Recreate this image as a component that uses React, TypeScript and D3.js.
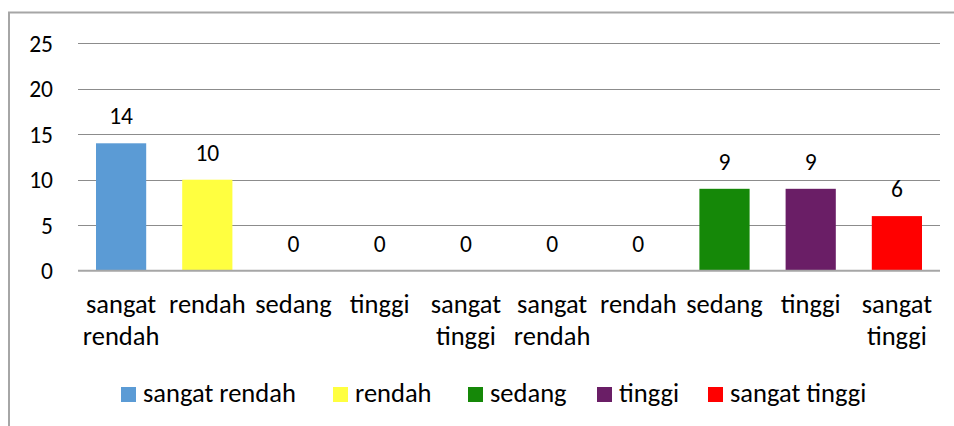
import React from "react";
import * as d3 from "d3";

const categories = [
  "sangat rendah", "rendah", "sedang", "tinggi", "sangat tinggi",
  "sangat rendah", "rendah", "sedang", "tinggi", "sangat tinggi",
];
const values = [14, 10, 0, 0, 0, 0, 0, 9, 9, 6];
const seriesNames = ["sangat rendah", "rendah", "sedang", "tinggi", "sangat tinggi"];
const seriesColors = ["#5b9bd5", "#ffff40", "#158808", "#6a1e66", "#ff0000"];
const yTicks = [0, 5, 10, 15, 20, 25];

// layout (not data)
const W = 954, H = 426;
const plotLeft = 78, plotRight = 940, plotTop = 43.2, plotBottom = 270.7;
const legendX = [121, 333, 468, 597, 708];
const FONT = "Carlito, Calibri, Lato, sans-serif";
const FS_NUM = 23.5;
const FS_TXT = 26.5;

export default function App() {
  const x = d3.scaleBand<number>()
    .domain(d3.range(categories.length))
    .range([plotLeft, plotRight])
    .paddingInner(36 / 86.2)
    .paddingOuter(18 / 86.2);
  const y = d3.scaleLinear().domain([0, 25]).range([plotBottom, plotTop]);
  const center = (i: number) => (x(i) as number) + x.bandwidth() / 2;
  const barW = x.bandwidth();

  return (
    <svg width={W} height={H} style={{ position: "absolute", left: 0, top: 0, background: "#fff" }}
      fontFamily={FONT}>
      <rect x={0} y={0} width={W} height={H} fill="#fff" />
      <rect x={9} y={12.5} width={W + 20} height={H + 20} fill="none" stroke="#a6a6a6" strokeWidth={2} />
      {yTicks.map((t) => (
        <g key={t}>
          {t !== 0 && (
            <line x1={plotLeft} x2={plotRight} y1={Math.round(y(t)) + 0.5} y2={Math.round(y(t)) + 0.5}
              stroke="#8c8c8c" strokeWidth={1} />
          )}
          <text x={53} y={y(t)} dy="0.36em" textAnchor="end" fontSize={FS_NUM} fill="#000">{t}</text>
        </g>
      ))}
      {values.map((v, i) => {
        const c = center(i);
        const col = seriesColors[seriesNames.indexOf(categories[i])];
        return (
          <g key={i}>
            {v > 0 && (
              <rect x={c - barW / 2} y={y(v)} width={barW} height={y(0) - y(v)} fill={col} />
            )}
            <text x={c} y={y(v) - 19} textAnchor="middle" fontSize={FS_NUM} fill="#000">{v}</text>
          </g>
        );
      })}
      <line x1={plotLeft} x2={plotRight} y1={y(0)} y2={y(0)} stroke="#a6a6a6" strokeWidth={2} />
      {categories.map((c, i) => {
        const words = c.split(" ");
        return (
          <text key={i} x={center(i)} y={313} textAnchor="middle" fontSize={FS_TXT} fill="#000">
            {words.map((w, k) => (
              <tspan key={k} x={center(i)} y={313 + k * 32}>{w}</tspan>
            ))}
          </text>
        );
      })}
      {seriesNames.map((s, i) => (
        <g key={s}>
          <rect x={legendX[i]} y={387} width={15} height={15} fill={seriesColors[i]} />
          <text x={legendX[i] + 22} y={402} fontSize={FS_TXT} fill="#000">{s}</text>
        </g>
      ))}
    </svg>
  );
}
